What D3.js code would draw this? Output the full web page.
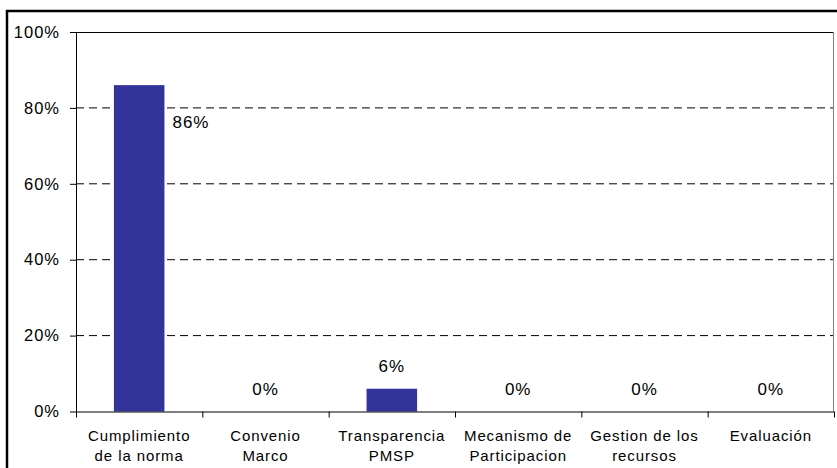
<!DOCTYPE html>
<html>
<head>
<meta charset="utf-8">
<script src="https://cdn.jsdelivr.net/npm/d3@7"></script>
<style>
  body { margin: 0; background: #fff; }
  svg { display: block; font-family: "Liberation Sans", Arial, sans-serif; }
</style>
</head>
<body>
<svg id="chart" width="837" height="468"></svg>
<script>
// chart data
var categories = [
    ["Cumplimiento", "de la norma"],
    ["Convenio", "Marco"],
    ["Transparencia", "PMSP"],
    ["Mecanismo de", "Participacion"],
    ["Gestion de los", "recursos"],
    ["Evaluación", ""]
];
var values = [0.86, 0, 0.06, 0, 0, 0];
var yTicks = [0, 0.2, 0.4, 0.6, 0.8, 1];

var svg = d3.select("#chart"),
    margin = {top: 32, right: 3, bottom: 56.5, left: 76},
    width = 837 - margin.left - margin.right,
    height = 468 - margin.top - margin.bottom;

// outer chart frame (runs off the picture at right and bottom)
svg.append("rect")
    .attr("x", 7).attr("y", 11)
    .attr("width", 900).attr("height", 500)
    .attr("fill", "none")
    .attr("stroke", "#000")
    .attr("stroke-width", 2.5);

var g = svg.append("g").attr("transform", "translate(" + margin.left + "," + margin.top + ")");

var x = d3.scaleBand()
    .domain(d3.range(categories.length))
    .range([0, width]);

var y = d3.scaleLinear()
    .domain([0, 1])
    .range([height, 0]);

// dashed grid lines
g.selectAll(".grid")
    .data(yTicks.filter(function (d) { return d > 0 && d < 1; }))
    .enter().append("line")
    .attr("class", "grid")
    .attr("x1", 0).attr("x2", width)
    .attr("y1", function (d) { return y(d); })
    .attr("y2", function (d) { return y(d); })
    .attr("stroke", "#000")
    .attr("stroke-width", 1)
    .attr("stroke-dasharray", "8,5");

// plot area border top / right
g.append("line")
    .attr("x1", 0).attr("x2", width)
    .attr("y1", 0.5).attr("y2", 0.5)
    .attr("stroke", "#000");
g.append("line")
    .attr("x1", width - 0.5).attr("x2", width - 0.5)
    .attr("y1", 0).attr("y2", height)
    .attr("stroke", "#808080");

// bars
var barW = x.bandwidth() * 0.4;
g.selectAll(".bar")
    .data(values)
    .enter().append("rect")
    .attr("class", "bar")
    .attr("x", function (d, i) { return x(i) + (x.bandwidth() - barW) / 2; })
    .attr("width", barW)
    .attr("y", function (d) { return y(d); })
    .attr("height", function (d) { return height - y(d); })
    .attr("fill", "#333399");

// value labels
g.selectAll(".val")
    .data(values)
    .enter().append("text")
    .attr("class", "val")
    .attr("x", function (d, i) {
        // the first label sits beside its bar
        return i === 0 ? x(i) + (x.bandwidth() + barW) / 2 + 8 : x(i) + x.bandwidth() / 2;
    })
    .attr("y", function (d, i) { return i === 0 ? y(d) + 43 : y(d) - 17; })
    .attr("text-anchor", function (d, i) { return i === 0 ? "start" : "middle"; })
    .attr("font-size", "17px")
    .attr("letter-spacing", "1px")
    .attr("fill", "#000")
    .text(function (d) { return Math.round(d * 100) + "%"; });

// y axis
var yAxis = g.append("g")
    .call(d3.axisLeft(y).tickValues(yTicks).tickSize(6).tickPadding(10)
        .tickFormat(function (d) { return Math.round(d * 100) + "%"; }));
yAxis.select(".domain").attr("stroke", "#000").attr("d", "M0.5,0V" + height);
yAxis.selectAll("text")
    .attr("font-size", "16.5px")
    .attr("font-family", "Liberation Sans, Arial, sans-serif")
    .attr("letter-spacing", "1px")
    .attr("fill", "#000");

// x axis with ticks at category boundaries
var bounds = d3.range(categories.length + 1).map(function (i) { return i * x.step(); });
var xa = g.append("g").attr("transform", "translate(0," + height + ")");
xa.append("line")
    .attr("x1", 0).attr("x2", width)
    .attr("y1", 0.5).attr("y2", 0.5)
    .attr("stroke", "#000");
xa.selectAll(".xtick")
    .data(bounds)
    .enter().append("line")
    .attr("x1", function (d) { return d + 0.5; })
    .attr("x2", function (d) { return d + 0.5; })
    .attr("y1", 0).attr("y2", 6)
    .attr("stroke", "#000");

var labels = xa.selectAll(".xlab")
    .data(categories)
    .enter().append("text")
    .attr("class", "xlab")
    .attr("text-anchor", "middle")
    .attr("font-size", "15px")
    .attr("letter-spacing", "0.9px")
    .attr("fill", "#000");
labels.each(function (d, i) {
    var t = d3.select(this);
    d.forEach(function (line, j) {
        t.append("tspan")
            .attr("x", x(i) + x.bandwidth() / 2)
            .attr("y", 29.5 + j * 20)
            .text(line);
    });
});
</script>
</body>
</html>
